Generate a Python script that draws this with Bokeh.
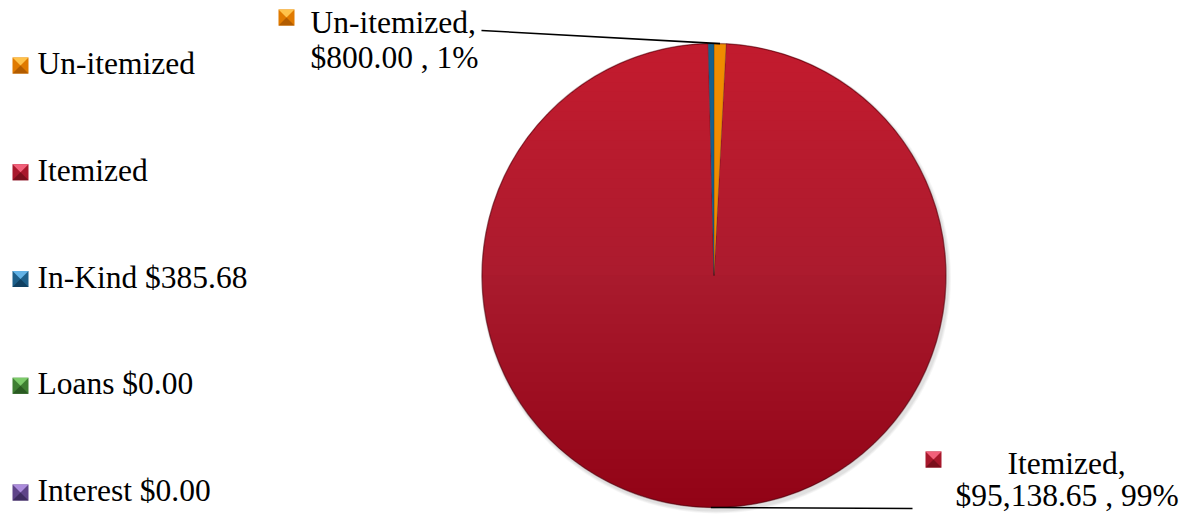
import math
import numpy as np
from bokeh.plotting import figure
from bokeh.models import ColumnDataSource, Range1d
from bokeh.core.properties import value
from bokeh.embed import file_html
from bokeh.resources import INLINE

# ---------------- data ----------------
categories = ["Un-itemized", "Itemized", "In-Kind", "Loans", "Interest"]
amounts = [800.00, 95138.65, 385.68, 0.00, 0.00]
legend_labels = ["Un-itemized", "Itemized", "In-Kind $385.68", "Loans $0.00", "Interest $0.00"]
labelled = ["Un-itemized", "Itemized"]

# ---------------- styles ----------------
pie_colors = ["#F08C00", "#AB1B2E", "#15608E", "#4A8A3A", "#6A4C96"]
key_mid = ["#E07A00", "#A8182C", "#1D5F8A", "#3E7E32", "#5E4488"]
key_light = ["#FFC24A", "#F2607A", "#62B2E6", "#7CCB6A", "#AC8CDC"]
key_dark = ["#B25C00", "#7A0F1C", "#104062", "#2A5A22", "#3E2C60"]
FONT = value("Liberation Serif")
FSIZE = "31.5px"
TEXT_SHIFT = 10  # vertical correction of the text baseline

W, H = 1200, 515
CX, CY, R = 713.5, 240.0, 232.0

p = figure(width=W, height=H, x_range=Range1d(0, W), y_range=Range1d(0, H),
           output_backend="svg", toolbar_location=None, min_border=0,
           x_axis_location=None, y_axis_location=None)
p.grid.visible = False
p.outline_line_color = None
p.background_fill_color = "white"
p.border_fill_color = "white"

# ---------------- pie geometry from data ----------------
total = sum(amounts)
fracs = [a / total for a in amounts]
cum = np.concatenate([[0.0], np.cumsum(fracs)])
start = [math.pi / 2 - 2 * math.pi * cum[i] for i in range(len(amounts))]
end = [math.pi / 2 - 2 * math.pi * cum[i + 1] for i in range(len(amounts))]
mid = [(s + e) / 2 for s, e in zip(start, end)]

# soft drop shadow
for k, a in enumerate([0.05, 0.06, 0.08]):
    p.circle(x=CX + 2, y=CY - 3, radius=R + 3 - k, fill_color="#555555",
             fill_alpha=a, line_color=None)

def src(idx):
    return ColumnDataSource(dict(
        x=[CX] * len(idx), y=[CY] * len(idx),
        start=[start[i] for i in idx], end=[end[i] for i in idx],
        color=[pie_colors[i] for i in idx], name=[categories[i] for i in idx]))

big = [i for i, a in enumerate(amounts) if a > 0 and fracs[i] > 0.5]
small = [i for i, a in enumerate(amounts) if a > 0 and fracs[i] <= 0.5]

p.wedge(x="x", y="y", radius=R, start_angle="start", end_angle="end",
        direction="clock", fill_color="color", line_color="#6A0E18",
        line_alpha=0.5, line_width=1, source=src(big))

# vertical shading (light top, dark bottom) built from overlapping caps
N = 24
a_light = 1 - 0.70 ** (1 / N)
a_dark = 1 - 0.76 ** (1 / N)
xs_l, ys_l, xs_d, ys_d = [], [], [], []
for i in range(1, N + 1):
    s = 1 - i / N
    th = np.linspace(math.asin(s), math.pi - math.asin(s), 60)
    xs_l.append(list(CX + R * np.cos(th)))
    ys_l.append(list(CY + R * np.sin(th)))
    sd = -s
    th = np.linspace(math.pi - math.asin(sd), 2 * math.pi + math.asin(sd), 60)
    xs_d.append(list(CX + R * np.cos(th)))
    ys_d.append(list(CY + R * np.sin(th)))
p.patches(xs=xs_l, ys=ys_l, fill_color="#FF2850", fill_alpha=a_light, line_color=None)
p.patches(xs=xs_d, ys=ys_d, fill_color="#3C000A", fill_alpha=a_dark, line_color=None)

p.wedge(x="x", y="y", radius=R, start_angle="start", end_angle="end",
        direction="clock", fill_color="color", line_color="#222222",
        line_alpha=0.35, line_width=0.6, source=src(small))

# rim
p.circle(x=CX, y=CY, radius=R, fill_color=None, line_color="#5A0A14",
         line_alpha=0.35, line_width=1.5)

# ---------------- data labels ----------------
label_anchor = {"Un-itemized": (481, 485), "Itemized": (912, 7)}
label_line1 = {"Un-itemized": (310, 483), "Itemized": (1007, 42)}
label_line2 = {"Un-itemized": (310, 448), "Itemized": (955, 10)}
label_key = {"Un-itemized": (286, 498), "Itemized": (933, 56)}

seg = dict(x0=[], y0=[], x1=[], y1=[])
txt = dict(x=[], y=[], text=[])
for name in labelled:
    i = categories.index(name)
    seg["x0"].append(CX + R * math.cos(mid[i]))
    seg["y0"].append(CY + R * math.sin(mid[i]))
    seg["x1"].append(label_anchor[name][0])
    seg["y1"].append(label_anchor[name][1])
    pct = round(fracs[i] * 100)
    txt["x"] += [label_line1[name][0], label_line2[name][0]]
    txt["y"] += [label_line1[name][1] + TEXT_SHIFT, label_line2[name][1] + TEXT_SHIFT]
    txt["text"] += [f"{name},", f"${amounts[i]:,.2f} , {pct:.0f}%"]
p.segment(x0="x0", y0="y0", x1="x1", y1="y1", line_color="black",
          line_width=1.6, source=ColumnDataSource(seg))
p.text(x="x", y="y", text="text", text_font=FONT, text_font_size=FSIZE,
       text_color="black", text_baseline="alphabetic", text_align="left",
       source=ColumnDataSource(txt))

# ---------------- legend keys (bevelled squares) ----------------
def key_polys(cx, cy, h):
    sq = ([cx - h, cx + h, cx + h, cx - h], [cy - h, cy - h, cy + h, cy + h])
    top = ([cx - h, cx + h, cx], [cy + h, cy + h, cy])
    bot = ([cx - h, cx + h, cx], [cy - h, cy - h, cy])
    return sq, top, bot

kx, ky, kc = [], [], []
def add_key(cx, cy, i, h=8):
    sq, top, bot = key_polys(cx, cy, h)
    for poly, col in ((sq, key_mid[i]), (top, key_light[i]), (bot, key_dark[i])):
        kx.append(poly[0]); ky.append(poly[1]); kc.append(col)

LEG_X, LEG_TX, LEG_Y0, LEG_DY = 20, 37, 442, 106.75
leg = dict(x=[], y=[], text=[])
for i, lab in enumerate(legend_labels):
    base = LEG_Y0 - i * LEG_DY
    add_key(LEG_X, base + 8, i)
    leg["x"].append(LEG_TX); leg["y"].append(base + TEXT_SHIFT); leg["text"].append(lab)
for name in labelled:
    add_key(label_key[name][0], label_key[name][1], categories.index(name))

p.patches(xs=kx, ys=ky, fill_color=kc, line_color=None)
p.text(x="x", y="y", text="text", text_font=FONT, text_font_size=FSIZE,
       text_color="black", text_baseline="alphabetic", text_align="left",
       source=ColumnDataSource(leg))

open("out.html", "w").write(file_html(p, INLINE))
